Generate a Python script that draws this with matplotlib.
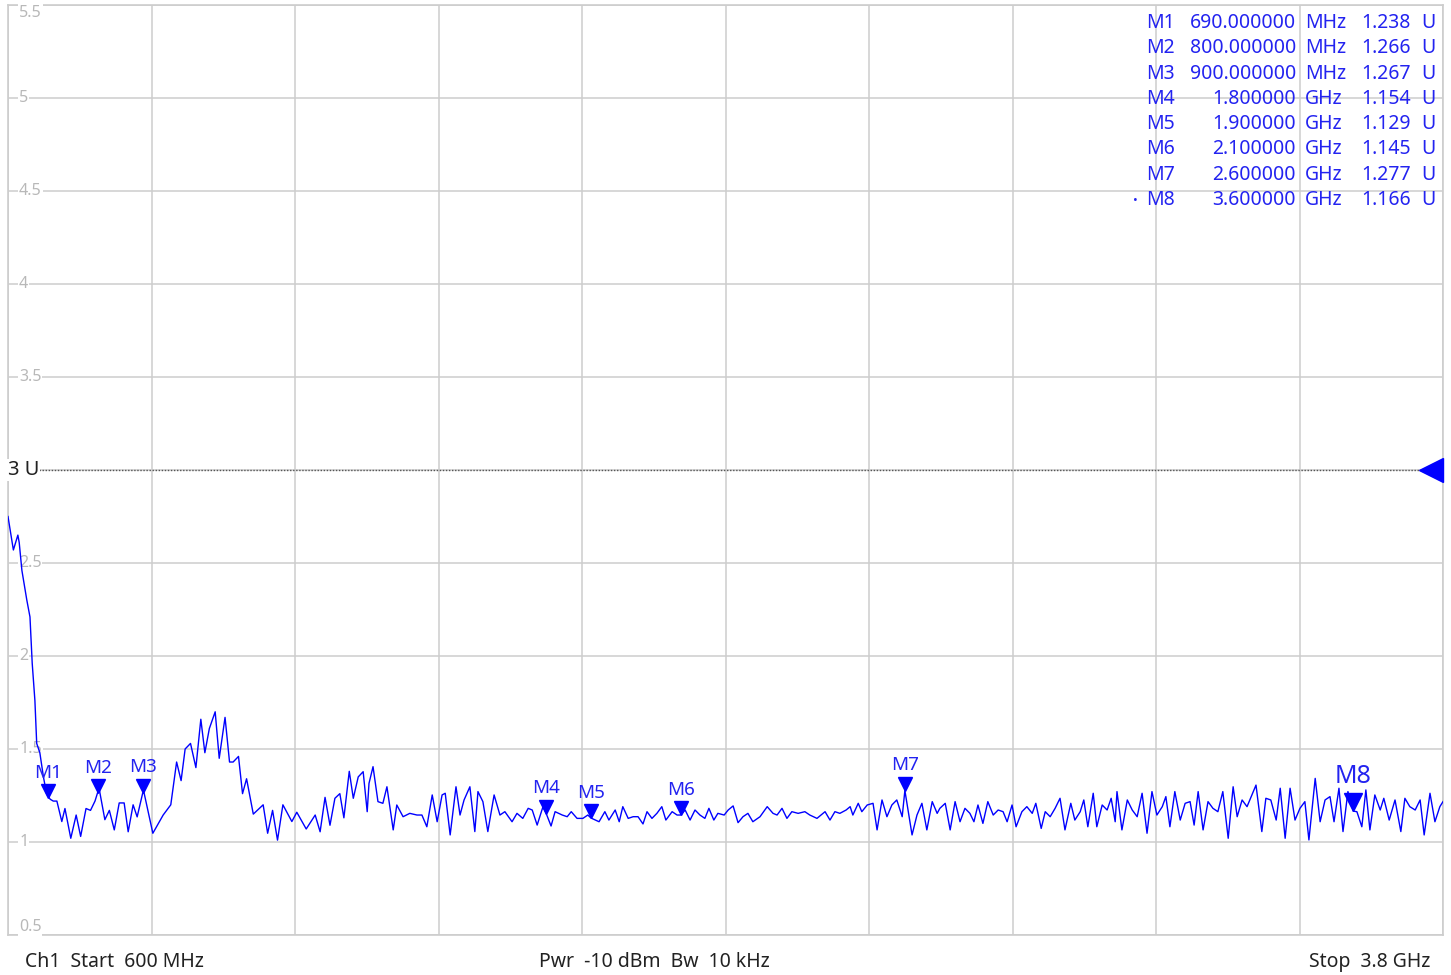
import numpy as np
import matplotlib.pyplot as plt
from matplotlib import transforms

plt.rcParams['font.family'] = ['Noto Sans', 'DejaVu Sans']

freq_mhz = [
    600, 612, 622, 625, 631, 642, 649, 654, 660, 664, 671, 679, 686, 694, 701,
    709, 720, 727, 740, 752, 762, 774, 784, 794, 803, 816, 826, 837, 848, 859,
    868, 879, 888, 902, 923, 946, 963, 976, 986, 995, 1007, 1019, 1030, 1039,
    1049, 1062, 1071, 1084, 1094, 1102, 1114, 1123, 1132, 1147, 1169, 1179,
    1190, 1201, 1213, 1233, 1244, 1265, 1285, 1296, 1307, 1318, 1329, 1340,
    1349, 1361, 1370, 1381, 1392, 1401, 1405, 1414, 1425, 1436, 1445, 1459,
    1467, 1481, 1496, 1512, 1523, 1534, 1546, 1557, 1568, 1575, 1586, 1599,
    1608, 1617, 1630, 1641, 1648, 1659, 1670, 1684, 1697, 1708, 1724, 1735,
    1748, 1760, 1769, 1780, 1793, 1800, 1811, 1820, 1836, 1847, 1856, 1869,
    1882, 1893, 1900, 1918, 1931, 1940, 1954, 1963, 1971, 1983, 1994, 2005,
    2016, 2025, 2036, 2047, 2058, 2067, 2081, 2092, 2100, 2110, 2121, 2132,
    2143, 2154, 2163, 2174, 2183, 2197, 2206, 2217, 2228, 2239, 2250, 2261,
    2277, 2293, 2306, 2315, 2326, 2337, 2348, 2362, 2377, 2388, 2404, 2422,
    2433, 2444, 2455, 2469, 2478, 2484, 2496, 2504, 2516, 2529, 2538, 2549,
    2560, 2571, 2582, 2594, 2600, 2616, 2627, 2638, 2649, 2661, 2672, 2678,
    2690, 2701, 2712, 2723, 2734, 2745, 2754, 2763, 2774, 2785, 2797, 2808,
    2819, 2828, 2839, 2848, 2861, 2872, 2884, 2892, 2904, 2913, 2924, 2935,
    2946, 2957, 2970, 2979, 2991, 2999, 3008, 3020, 3028, 3040, 3051, 3060,
    3069, 3073, 3084, 3096, 3107, 3118, 3129, 3140, 3151, 3162, 3174, 3182,
    3191, 3202, 3214, 3225, 3236, 3245, 3254, 3265, 3276, 3287, 3298, 3309,
    3321, 3332, 3341, 3352, 3363, 3374, 3383, 3396, 3405, 3416, 3428, 3437,
    3448, 3459, 3470, 3481, 3492, 3501, 3515, 3526, 3537, 3548, 3557, 3568,
    3577, 3588, 3600, 3608, 3619, 3628, 3637, 3648, 3660, 3668, 3680, 3693,
    3706, 3715, 3726, 3738, 3749, 3758, 3771, 3782, 3793, 3800,
]
vswr = [
    2.75, 2.57, 2.65, 2.61, 2.46, 2.30, 2.21, 1.96, 1.76, 1.53, 1.48, 1.35,
    1.26, 1.23, 1.22, 1.22, 1.11, 1.18, 1.02, 1.145, 1.03, 1.18, 1.17, 1.22,
    1.29, 1.12, 1.17, 1.065, 1.21, 1.21, 1.055, 1.20, 1.135, 1.28, 1.047,
    1.145, 1.20, 1.43, 1.33, 1.50, 1.53, 1.40, 1.66, 1.48, 1.61, 1.70, 1.45,
    1.67, 1.43, 1.43, 1.46, 1.26, 1.34, 1.15, 1.20, 1.047, 1.17, 1.01, 1.20,
    1.11, 1.16, 1.07, 1.145, 1.055, 1.24, 1.09, 1.235, 1.26, 1.13, 1.38,
    1.235, 1.35, 1.378, 1.163, 1.315, 1.405, 1.217, 1.208, 1.297, 1.065,
    1.199, 1.136, 1.154, 1.145, 1.145, 1.082, 1.253, 1.109, 1.253, 1.262,
    1.038, 1.297, 1.145, 1.226, 1.297, 1.056, 1.271, 1.217, 1.056, 1.253,
    1.145, 1.163, 1.109, 1.154, 1.127, 1.181, 1.172, 1.091, 1.19, 1.154,
    1.086, 1.163, 1.145, 1.136, 1.163, 1.127, 1.127, 1.145, 1.129, 1.109,
    1.163, 1.118, 1.172, 1.109, 1.19, 1.127, 1.136, 1.136, 1.097, 1.163,
    1.127, 1.154, 1.19, 1.118, 1.163, 1.145, 1.145, 1.172, 1.118, 1.172,
    1.145, 1.127, 1.181, 1.118, 1.154, 1.145, 1.172, 1.194, 1.104, 1.136,
    1.154, 1.109, 1.136, 1.19, 1.154, 1.145, 1.181, 1.127, 1.163, 1.154,
    1.163, 1.145, 1.127, 1.163, 1.118, 1.163, 1.154, 1.172, 1.19, 1.145,
    1.208, 1.163, 1.199, 1.208, 1.065, 1.226, 1.136, 1.199, 1.226, 1.136,
    1.277, 1.038, 1.145, 1.208, 1.065, 1.217, 1.154, 1.181, 1.208, 1.065,
    1.217, 1.109, 1.181, 1.154, 1.109, 1.199, 1.10, 1.217, 1.145, 1.172,
    1.163, 1.109, 1.199, 1.082, 1.163, 1.19, 1.154, 1.208, 1.073, 1.163,
    1.136, 1.181, 1.235, 1.065, 1.208, 1.118, 1.163, 1.226, 1.082, 1.262,
    1.082, 1.199, 1.172, 1.235, 1.109, 1.271, 1.065, 1.226, 1.172, 1.136,
    1.262, 1.047, 1.271, 1.145, 1.19, 1.244, 1.082, 1.271, 1.118, 1.208,
    1.217, 1.091, 1.271, 1.065, 1.217, 1.181, 1.163, 1.271, 1.02, 1.297,
    1.136, 1.226, 1.19, 1.253, 1.306, 1.056, 1.235, 1.226, 1.118, 1.289,
    1.02, 1.289, 1.118, 1.181, 1.217, 1.011, 1.342, 1.109, 1.226, 1.244,
    1.109, 1.289, 1.056, 1.271, 1.166, 1.163, 1.082, 1.28, 1.065, 1.253,
    1.172, 1.235, 1.118, 1.226, 1.056, 1.235, 1.19, 1.172, 1.226, 1.038,
    1.262, 1.109, 1.19, 1.217,
]

marker_names = ['M1', 'M2', 'M3', 'M4', 'M5', 'M6', 'M7', 'M8']
marker_freq_mhz = [690, 800, 900, 1800, 1900, 2100, 2600, 3600]
marker_vswr = [1.238, 1.266, 1.267, 1.154, 1.129, 1.145, 1.277, 1.166]
marker_freq_text = ['690.000000', '800.000000', '900.000000', '1.800000',
                    '1.900000', '2.100000', '2.600000', '3.600000']
marker_units = ['MHz', 'MHz', 'MHz', 'GHz', 'GHz', 'GHz', 'GHz', 'GHz']

y_ticks = [5.5, 5, 4.5, 4, 3.5, 3, 2.5, 2, 1.5, 1, 0.5]
ref_level = 3
start_mhz, stop_mhz = 600, 3800
y_min, y_max = 0.5, 5.5

BLUE = '#0000ff'
TEXT_BLUE = '#2323f0'
GRID = '#cdcdcd'

W, H = 1451, 975


def px(x, y):
    return x / W, 1 - y / H


def draw_screen(ax):
    ax.set_xlim(start_mhz, stop_mhz)
    ax.set_ylim(y_min, y_max)
    ax.set_xticks(np.linspace(start_mhz, stop_mhz, 11))
    ax.set_yticks(y_ticks)
    ax.grid(True, color=GRID, linewidth=1.1)
    ax.tick_params(length=0, labelbottom=False, labelleft=False)
    for s in ax.spines.values():
        s.set_color(GRID)
        s.set_linewidth(1.2)

    # y labels drawn inside the screen
    tr = transforms.blended_transform_factory(ax.transAxes, ax.transData)
    for t in y_ticks:
        if t == ref_level:
            continue
        va = 'center'
        if t == y_max:
            va = 'top'
        elif t == y_min:
            va = 'bottom'
        ax.text(0.0077, t, f'{t:g}', transform=tr, ha='left', va=va,
                fontsize=11.5, color='#b8b8b8',
                bbox=dict(facecolor='white', edgecolor='none', pad=0.6))

    # reference line
    ax.plot([start_mhz + 70, stop_mhz], [ref_level, ref_level], ls=(0, (1, 1.2)),
            color='#555555', lw=1.0, zorder=3)
    ax.text(0.0, ref_level, '3 U', transform=tr, ha='left', va='center',
            fontsize=14.5, color='#222222',
            bbox=dict(facecolor='white', edgecolor='none', pad=0.5))
    ref_tr = transforms.offset_copy(ax.transData, fig=ax.figure, x=-9, y=0,
                                    units='points')
    ax.plot([stop_mhz], [ref_level], marker='<', markersize=17, color=BLUE,
            transform=ref_tr, clip_on=False, zorder=4)


def draw_trace(ax):
    ax.plot(freq_mhz, vswr, color=BLUE, lw=1.0, zorder=5)
    for i, name in enumerate(marker_names):
        big = name == 'M8'
        ms = 13.5 if big else 9.5
        tri_tr = transforms.offset_copy(ax.transData, fig=ax.figure, x=0,
                                        y=ms / 2, units='points')
        ax.plot([marker_freq_mhz[i]], [marker_vswr[i]], marker='v', markersize=ms,
                color=BLUE, transform=tri_tr, zorder=6)
        ax.annotate(name, (marker_freq_mhz[i], marker_vswr[i]),
                    xytext=(0, 25 if big else 18), textcoords='offset points',
                    ha='center', va='center', fontsize=18 if big else 13.5,
                    color=TEXT_BLUE, zorder=7)


def draw_table(fig):
    fs = 14
    for i, name in enumerate(marker_names):
        y = 23 + i * 25.3
        fig.text(*px(1146, y), name, ha='left', va='center', fontsize=fs,
                 color=TEXT_BLUE)
        fig.text(*px(1296, y), marker_freq_text[i], ha='right', va='center',
                 fontsize=fs, color=TEXT_BLUE)
        fig.text(*px(1305, y), marker_units[i], ha='left', va='center',
                 fontsize=fs, color=TEXT_BLUE)
        fig.text(*px(1411, y), f'{marker_vswr[i]:.3f}', ha='right', va='center',
                 fontsize=fs, color=TEXT_BLUE)
        fig.text(*px(1421, y), 'U', ha='left', va='center', fontsize=fs,
                 color=TEXT_BLUE)
    fig.text(*px(1133, 23 + 7 * 25.3), '•', ha='left', va='center',
             fontsize=9, color=TEXT_BLUE)


def draw_footer(fig):
    kw = dict(va='center', fontsize=14, color='#222222')
    fig.text(*px(25, 962), 'Ch1  Start  600 MHz', ha='left', **kw)
    fig.text(*px(654, 962), 'Pwr  -10 dBm  Bw  10 kHz', ha='center', **kw)
    fig.text(*px(1430, 962), 'Stop  3.8 GHz', ha='right', **kw)


def main():
    fig = plt.figure(figsize=(W / 100, H / 100), dpi=100)
    ax = fig.add_axes([8 / W, 1 - 935 / H, 1435 / W, 930 / H])
    draw_screen(ax)
    draw_trace(ax)
    draw_table(fig)
    draw_footer(fig)
    fig.savefig('out.png', dpi=100)


if __name__ == '__main__':
    main()
